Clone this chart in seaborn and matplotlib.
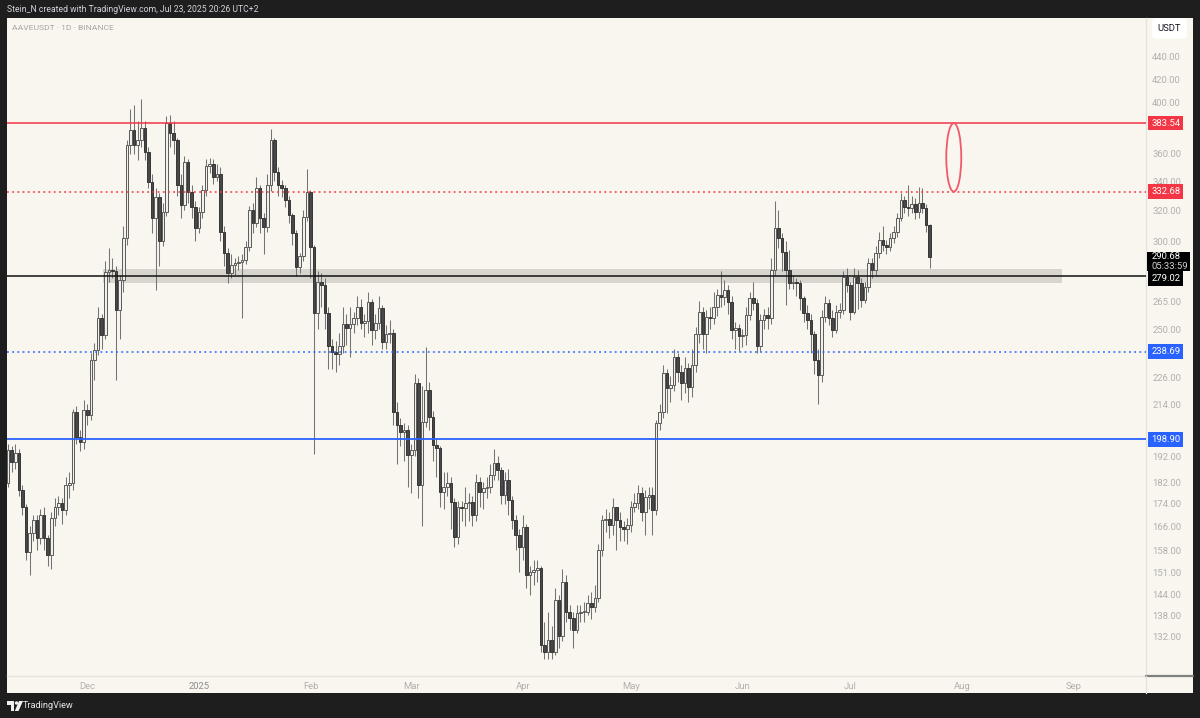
import numpy as np
import pandas as pd
import matplotlib
matplotlib.use("Agg")
import matplotlib.pyplot as plt
import matplotlib.dates as mdates
from matplotlib.patches import Ellipse, Rectangle, Polygon, Circle
from matplotlib.lines import Line2D
import seaborn as sns

# daily AAVE/USDT candles, 8 Nov 2024 .. 23 Jul 2025
first_open = 197.0
closes = [
    181.6, 194.5, 189.7, 193.3, 179.0, 172.8, 157.4, 163.7, 168.2, 162.0,
    169.9, 162.0, 156.4, 168.9, 172.8, 174.2, 171.7, 180.8, 181.6, 210.4,
    199.8, 197.8, 211.3, 209.1, 234.4, 239.4, 255.8, 246.9, 281.4, 282.6,
    282.0, 260.1, 276.8, 302.0, 366.2, 378.1, 366.2, 370.3, 379.7, 361.2,
    339.4, 314.9, 328.9, 300.2, 318.9, 383.5, 375.7, 370.3, 337.3, 323.6,
    353.7, 332.4, 322.2, 308.4, 318.9, 333.8, 351.1, 352.6, 342.9, 345.0,
    305.8, 292.8, 280.9, 285.6, 286.8, 287.4, 288.6, 296.4, 320.2, 311.6,
    335.2, 314.9, 309.1, 337.3, 370.3, 346.5, 337.3, 335.2, 326.9, 317.0,
    305.1, 284.4, 290.8, 315.5, 332.4, 296.4, 258.5, 275.6,
    274.0, 258.5, 241.4, 238.4, 237.5, 241.4, 252.5, 250.9, 252.5, 255.8,
    261.7, 253.5, 254.1, 264.5, 249.5, 253.5, 261.2, 243.4, 247.4, 248.0,
    210.4, 204.8, 201.9, 202.7, 192.5, 194.5, 223.5, 180.8, 206.1, 220.3,
    208.2, 196.5, 195.3, 178.2, 180.0, 181.6, 174.6, 162.4, 172.8, 172.5,
    174.2, 174.5, 169.9, 181.9, 178.2, 179.7, 180.0, 184.7, 189.3, 186.6,
    177.1, 182.7, 175.3, 168.2, 163.0, 159.0, 165.7, 150.0, 151.0, 151.6,
    152.3, 129.7, 127.9, 131.1, 127.9, 142.4, 132.2, 147.8, 138.9, 137.2,
    133.8, 138.6, 138.9, 138.9, 141.5, 140.3, 143.0, 158.0, 168.2, 168.6,
    166.6, 172.8, 168.2, 165.7, 165.3, 166.6, 172.8, 174.2, 177.8, 171.0,
    176.4, 177.1, 171.7,
    205.6, 210.4, 228.2, 221.2, 222.6, 235.9, 228.7, 223.5, 230.6, 221.7,
    232.0, 247.4, 259.1, 247.4, 256.3, 255.8, 261.7, 268.2, 267.1, 271.1,
    264.5, 249.5, 250.5, 246.4, 246.9, 257.4, 266.5, 263.9, 241.4, 254.7,
    257.4, 255.8, 282.6, 308.4, 302.0, 293.4, 282.6, 275.4, 276.0, 275.4,
    266.5, 258.5, 254.7, 247.4, 234.4, 227.2, 256.3, 263.9, 255.8, 249.5,
    259.1, 260.1, 278.5, 274.0, 259.1, 278.5, 275.4, 265.6, 272.8, 286.8,
    282.6, 292.8, 300.8, 297.8, 296.6, 302.0, 305.8, 314.9, 326.9, 322.2,
    321.6, 324.2, 318.9, 324.9, 321.6, 310.4, 290.68,
]
highs = [
    199, 197, 196, 197, 195, 181, 174, 166, 170, 170,
    172, 173, 163, 171, 176, 177, 176, 184, 186, 212,
    213, 203, 216, 214, 238, 243, 262, 258, 288, 296,
    290, 285, 280, 310, 370, 395, 398, 385, 403, 385,
    365, 345, 335, 332, 325, 389, 390, 385, 372, 345,
    358, 356, 337, 326, 322, 337, 356, 357, 356, 352,
    350, 310, 296, 292, 290, 291, 292, 300, 323, 325,
    343, 337, 318, 345, 379, 372, 350, 341, 337, 330,
    318, 307, 293, 320, 349, 334, 298, 282,
    281, 278, 262, 245, 244, 248, 262, 258, 262, 259,
    268, 266, 258, 270, 266, 258, 268, 263, 252, 255,
    250, 215, 208, 206, 205, 197, 228, 226, 222, 241,
    224, 211, 199, 196, 186, 186, 184, 176, 175, 175,
    180, 178, 177, 185, 184, 182, 184, 189, 195, 192,
    188, 186, 187, 177, 170, 165, 170, 167, 153, 155,
    155, 153, 136, 139, 135, 146, 144, 152, 150, 141,
    139, 141, 141, 142, 144, 145, 147, 160, 170, 172,
    171, 176, 173, 171, 168, 169, 175, 178, 181, 180,
    179, 180, 180,
    207, 214, 232, 230, 227, 240, 238, 232, 236, 233,
    240, 251, 265, 262, 260, 262, 270, 272, 282, 277,
    274, 268, 254, 253, 250, 262, 270, 276, 266, 258,
    261, 262, 290, 326, 320, 305, 300, 295, 280, 278,
    277, 268, 263, 258, 249, 240, 260, 268, 266, 260,
    263, 264, 282, 284, 276, 284, 283, 278, 276, 290,
    290, 297, 306, 310, 301, 305, 310, 318, 332, 330,
    337, 330, 328, 336, 335, 324, 311,
]
lows = [
    180, 180, 186, 187, 177, 170, 155, 150, 161, 158,
    160, 158, 153, 152, 166, 170, 167, 170, 176, 179,
    197, 194, 195, 205, 207, 225, 237, 240, 245, 276,
    278, 225, 245, 270, 298, 360, 360, 355, 365, 355,
    335, 305, 271, 285, 297, 316, 365, 360, 330, 315,
    320, 325, 315, 300, 305, 315, 330, 346, 338, 340,
    300, 285, 275, 278, 280, 283, 256, 286, 294, 305,
    309, 305, 292, 306, 333, 340, 330, 329, 322, 312,
    298, 279, 281, 288, 313, 278, 193, 250,
    262, 250, 230, 230, 229, 232, 238, 242, 236, 248,
    252, 250, 246, 248, 242, 245, 250, 240, 240, 243,
    205, 189, 196, 190, 180, 178, 192, 176, 166, 204,
    203, 190, 184, 173, 172, 177, 165, 159, 160, 168,
    166, 168, 166, 168, 173, 172, 176, 178, 183, 183,
    174, 174, 170, 165, 158, 151, 155, 146, 144, 147,
    148, 128, 126, 126, 126, 127, 129, 131, 136, 134,
    129, 133, 136, 136, 138, 137, 139, 142, 156, 164,
    162, 163, 158, 161, 161, 160, 164, 171, 172, 168,
    163, 172, 163,
    170, 203, 208, 210, 215, 220, 224, 216, 219, 215,
    217, 229, 243, 240, 238, 250, 253, 257, 262, 263,
    258, 245, 240, 239, 241, 242, 255, 260, 238, 239,
    250, 250, 253, 280, 296, 282, 263, 272, 272, 268,
    260, 254, 250, 238, 228, 214, 224, 254, 252, 246,
    248, 256, 258, 270, 255, 258, 261, 262, 264, 270,
    278, 280, 290, 294, 292, 294, 299, 303, 313, 318,
    316, 318, 314, 315, 318, 306, 284,
]
opens = [first_open] + closes[:-1]
dates = pd.date_range("2024-11-08", periods=len(closes), freq="D")

# horizontal levels drawn on the chart
res_high = 383.54
res_low = 332.68
pivot = 279.02
sup_high = 238.69
sup_low = 198.90
zone_low, zone_high = 275.4, 283.6
last_price = 290.68
countdown = "05:33:59"

price_ticks = [132, 138, 144, 151, 158, 166, 174, 182, 192, 214, 226,
               250, 265, 300, 320, 340, 360, 400, 420, 440]
month_dates = ["2024-12-01", "2025-01-01", "2025-02-01", "2025-03-01", "2025-04-01",
               "2025-05-01", "2025-06-01", "2025-07-01", "2025-08-01", "2025-09-01"]
month_labels = ["Dec", "2025", "Feb", "Mar", "Apr", "May", "Jun", "Jul", "Aug", "Sep"]

df = pd.DataFrame({"date": dates, "open": opens, "high": highs,
                   "low": lows, "close": closes})
df["x"] = mdates.date2num(df["date"])
df["up"] = df["close"] >= df["open"]

sns.set_theme(style="white")
plt.rcParams["font.family"] = ["Roboto", "DejaVu Sans"]

W, H = 1200, 718
cream = "#f8f6ef"
dark = "#1e1e1e"
tick_grey = "#b2b0aa"

fig = plt.figure(figsize=(12, 7.18), dpi=100, facecolor=dark)
fig.patches.append(Rectangle((7 / W, 1 - 693 / H), 1186 / W, 675 / H,
                             transform=fig.transFigure, fc=cream, ec="none", zorder=-5))

ax = fig.add_axes([7 / W, 1 - 676 / H, 1139 / W, 658 / H])
ax.set_zorder(1)
ax.set_facecolor(cream)
ax.set_yscale("log")

jan1 = mdates.date2num(pd.Timestamp("2025-01-01"))
ax.set_xlim(jan1 - 53.3, jan1 + 263.1)
ax.set_ylim(121.7, 477.1)

# demand zone
zx0 = jan1 - 26.7
zx1 = jan1 + 239.7
ax.fill_between([zx0, zx1], zone_low, zone_high, color="#d8d5ce", lw=0, zorder=1)

# candles
ax.vlines(df["x"], df["low"], df["high"], color="#747474", lw=0.75, zorder=3)
up = df[df["up"]]
dn = df[~df["up"]]
ax.bar(up["x"], np.maximum(up["close"] - up["open"], 0.4), bottom=up["open"],
       width=0.7, color="#f2f0ea", edgecolor="#5a5a5a", linewidth=0.7, zorder=4)
ax.bar(dn["x"], np.maximum(dn["open"] - dn["close"], 0.4), bottom=dn["close"],
       width=0.7, color="#484848", edgecolor="#363636", linewidth=0.7, zorder=4)

# levels
red = "#f23645"
blue = "#2962ff"
ax.axhline(res_high, color=red, lw=1.1, zorder=5)
ax.axhline(res_low, color=red, lw=1.1, ls=(0, (1.2, 2.2)), zorder=5)
ax.axhline(pivot, color="#111111", lw=1.1, zorder=5)
ax.axhline(sup_high, color=blue, lw=1.1, ls=(0, (1.2, 2.2)), zorder=5)
ax.axhline(sup_low, color=blue, lw=1.3, zorder=5)

# target ellipse between the two red levels
xc = jan1 + 209.7
to_ax = ax.transData + ax.transAxes.inverted()
p_top = to_ax.transform((xc, res_high))
p_bot = to_ax.transform((xc, res_low))
ax.add_patch(Ellipse((p_top[0], (p_top[1] + p_bot[1]) / 2), 15 / 1139,
                     p_top[1] - p_bot[1], transform=ax.transAxes, fill=False,
                     ec="#ef5a68", lw=1.3, zorder=6))

# axes look
for s in ["top", "left"]:
    ax.spines[s].set_visible(False)
for s in ["right", "bottom"]:
    ax.spines[s].set_color("#e6e3da")
    ax.spines[s].set_linewidth(1)
ax.grid(False)

ax.yaxis.tick_right()
ax.yaxis.set_minor_locator(matplotlib.ticker.NullLocator())
ax.set_yticks(price_ticks)
ax.set_yticklabels([f"{v:.2f}" for v in price_ticks])
ax.tick_params(axis="y", length=0, pad=4.5, labelsize=6.8, labelcolor=tick_grey)

ax.set_xticks(mdates.date2num(pd.to_datetime(month_dates)))
ax.set_xticklabels(month_labels)
ax.tick_params(axis="x", length=0, pad=4.5, labelsize=6.8, labelcolor=tick_grey)
ax.get_xticklabels()[1].set_color("#8f8d88")
ax.set_xlabel("")
ax.set_ylabel("")

# price labels on the scale
yt = ax.get_yaxis_transform()


def scale_label(price, text, color):
    ax.text(1.0045, price, text, transform=yt, ha="left", va="center",
            color="white", fontsize=6.8, clip_on=False, zorder=11,
            bbox=dict(boxstyle="square,pad=0.3", fc=color, ec="none"))


scale_label(res_high, f"{res_high:.2f}", red)
scale_label(res_low, f"{res_low:.2f}", red)
scale_label(sup_high, f"{sup_high:.2f}", blue)
scale_label(sup_low, f"{sup_low:.2f}", blue)

ax.add_patch(Rectangle((1.0008, 282.0), 43 / 1139, 293.6 - 282.0, transform=yt,
                       fc="black", ec="none", clip_on=False, zorder=10))
ax.text(1.0045, last_price, f"{last_price:.2f}", transform=yt, ha="left", va="center",
        color="white", fontsize=6.8, clip_on=False, zorder=11)
ax.text(1.0045, 284.7, countdown, transform=yt, ha="left", va="center",
        color="#d0d0d0", fontsize=6.8, clip_on=False, zorder=11)
ax.text(1.0045, 277.9, f"{pivot:.2f}", transform=yt, ha="left", va="center",
        color="white", fontsize=6.8, clip_on=False, zorder=11,
        bbox=dict(boxstyle="square,pad=0.3", fc="black", ec="none"))

# frame bits outside the plot
fig.lines.append(Line2D([1146 / W, 1193 / W], [1 - 676 / H, 1 - 676 / H],
                        transform=fig.transFigure, color="#808080", lw=1.6))
fig.lines.append(Line2D([1146 / W, 1146 / W], [1 - 693 / H, 1 - 676 / H],
                        transform=fig.transFigure, color="#e6e3da", lw=1))

fig.text(1169.5 / W, 1 - 28.5 / H, "USDT", ha="center", va="center", fontsize=6.8,
         color="#131722", zorder=5,
         bbox=dict(boxstyle="round,pad=0.6,rounding_size=0.4", fc="white", ec="none"))
fig.text(7 / W, 1 - 9 / H, "Stein_N created with TradingView.com, Jul 23, 2025 20:26 UTC+2",
         ha="left", va="center", fontsize=6.2, color="#d1d4dc")
fig.text(12 / W, 1 - 28.5 / H, "AAVEUSDT · 1D · BINANCE", ha="left", va="center",
         fontsize=6.1, color="#a8a6a0", zorder=5)

# TradingView logo + wordmark
logo = [Polygon([(7, 701), (14, 701), (14, 711), (11, 711), (11, 704.5), (7, 704.5)]),
        Circle((16.5, 703), 1.7),
        Polygon([(19, 701), (23, 701), (18.5, 711), (14.8, 711)])]
for p in logo:
    p.set_transform(matplotlib.transforms.Affine2D().scale(1 / W, -1 / H)
                    .translate(0, 1) + fig.transFigure)
    p.set_facecolor("#f0f0f0")
    p.set_edgecolor("none")
    fig.patches.append(p)
fig.text(23 / W, 1 - 706 / H, "TradingView", ha="left", va="center", fontsize=6.6,
         color="#e8e8e8")

fig.savefig("out.png", dpi=100, facecolor=dark)
